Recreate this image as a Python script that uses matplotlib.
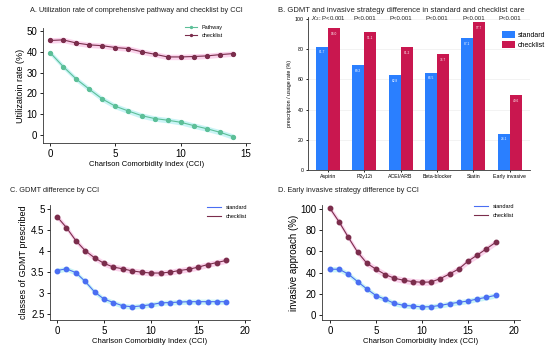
import numpy as np
import matplotlib
matplotlib.use("Agg")
import matplotlib.pyplot as plt

# ── data ─────────────────────────────────────────────────────────
cci_a = list(range(15))
pathway = [39.6, 32.9, 26.9, 22.0, 17.3, 13.8, 11.5, 9.3, 7.9, 7.1, 6.1, 4.5, 3.0, 1.3, -0.8]
checklist_a = [45.4, 45.7, 44.2, 43.3, 42.9, 42.0, 41.5, 40.0, 38.8, 37.5, 37.5, 37.7, 38.0, 38.6, 39.1]

drugs = ["Aspirin", "P2y12i", "ACEI/ARB", "Beta-blocker", "Statin", "Early invasive"]
std_rate = [81.7, 69.2, 62.8, 64.5, 87.1, 24.1]
chk_rate = [94.0, 91.1, 81.2, 76.7, 97.7, 49.6]
p_labels = ["$X_2$: P<0.001", "P<0.001", "P<0.001", "P<0.001", "P<0.001", "P<0.001"]

cci = list(range(19))
gdmt_std = [3.54, 3.58, 3.49, 3.28, 3.03, 2.86, 2.78, 2.70, 2.68, 2.70, 2.73, 2.77,
            2.78, 2.79, 2.80, 2.80, 2.80, 2.80, 2.80]
gdmt_chk = [4.82, 4.56, 4.25, 4.01, 3.84, 3.71, 3.62, 3.58, 3.53, 3.50, 3.48, 3.48,
            3.50, 3.54, 3.57, 3.62, 3.68, 3.73, 3.78]
inv_std = [43.2, 43.2, 38.5, 31.5, 24.6, 18.3, 14.8, 11.0, 9.1, 8.5, 7.6, 7.9,
           9.1, 10.7, 12.0, 13.2, 15.1, 16.7, 18.6]
inv_chk = [100.6, 87.7, 73.2, 59.3, 48.9, 43.2, 38.2, 34.7, 32.8, 31.5, 30.9, 31.2,
           34.4, 38.8, 43.5, 50.8, 56.5, 62.5, 68.5]

# ── style ────────────────────────────────────────────────────────
plt.rcParams.update({
    "font.family": "Liberation Sans",
    "axes.linewidth": 0.6,
    "xtick.major.width": 0.6,
    "ytick.major.width": 0.6,
    "xtick.major.size": 2.5,
    "ytick.major.size": 2.5,
    "xtick.major.pad": 1.5,
    "ytick.major.pad": 1.5,
})

MAROON = "#7b2d4c"
PINK_BAND = "#fbd3ec"
CYAN_BAND = "#c9f4f6"
TEAL = "#5cbf98"
BLUE = "#4a6ef2"
BAR_BLUE = "#2a7fff"
BAR_RED = "#c9174f"

W, H = 550, 351
fig = plt.figure(figsize=(W / 100, H / 100), dpi=100)


def px_axes(left, top, right, bottom):
    return fig.add_axes([left / W, 1 - bottom / H, (right - left) / W, (bottom - top) / H])


def stata_look(ax):
    for s in ("top", "right"):
        ax.spines[s].set_visible(False)
    ax.spines["left"].set_color("#333333")
    ax.spines["bottom"].set_color("#333333")


def curve(ax, x, y, color, band, half, label, ms=3.2):
    y = np.array(y)
    ax.fill_between(x, y - half, y + half, color=band, lw=0, zorder=1)
    ax.plot(x, y, color=color, lw=0.8, marker="o", ms=ms, zorder=3, label=label)


# ── A ────────────────────────────────────────────────────────────
axA = px_axes(43, 28, 250, 143)
stata_look(axA)
curve(axA, cci_a, pathway, TEAL, CYAN_BAND, 1.3, "Pathway", ms=2.8)
curve(axA, cci_a, checklist_a, MAROON, PINK_BAND, 1.3, "checklist", ms=2.8)
axA.set_xlim(-0.54, 15.3)
axA.set_ylim(-3.85, 51.4)
axA.set_xticks([0, 5, 10, 15])
axA.set_yticks([0, 10, 20, 30, 40, 50])
axA.tick_params(labelsize=7)
axA.set_xlabel("Charlson Comorbidity Index (CCI)", fontsize=5.5, labelpad=2)
axA.set_ylabel("Utilizatoin rate (%)", fontsize=6.5, labelpad=1)
axA.legend(loc="upper left", bbox_to_anchor=(0.66, 1.07), fontsize=4, frameon=False,
           handlelength=2.2, markerscale=0.5, labelspacing=0.5)
fig.text(30 / W, 1 - 11 / H, "A. Utilization rate of comprehensive pathway and checklist by CCI",
         fontsize=5.3, va="center", color="#222222")

# ── B ────────────────────────────────────────────────────────────
axB = px_axes(308, 17, 530, 170)
stata_look(axB)
xb = np.arange(len(drugs))
bw = 0.33
b1 = axB.bar(xb - bw / 2, std_rate, bw, color=BAR_BLUE, zorder=2, label="standard")
b2 = axB.bar(xb + bw / 2, chk_rate, bw, color=BAR_RED, zorder=2, label="checklist")
for bars, vals in ((b1, std_rate), (b2, chk_rate)):
    for bar, v in zip(bars, vals):
        axB.text(bar.get_x() + bar.get_width() / 2, v - 2.5, f"{v:.1f}", ha="center",
                 va="top", fontsize=2.3, color="white", zorder=3)
for i, lab in enumerate(p_labels):
    axB.text(xb[i], 100.5, lab, ha="center", va="center", fontsize=4.3, color="#222222")
axB.set_xlim(-0.55, 5.56)
axB.set_ylim(0, 101.3)
axB.set_xticks(xb)
axB.set_xticklabels(drugs)
axB.set_yticks([0, 20, 40, 60, 80, 100])
axB.tick_params(labelsize=3.8, length=1.5)
axB.yaxis.grid(True, color="#eeeeee", lw=0.5, zorder=0)
axB.set_ylabel("prescription / usage rate (%)", fontsize=3.8, labelpad=2)
axB.legend(loc="upper left", bbox_to_anchor=(0.86, 0.93), fontsize=5, frameon=False,
           borderpad=0, handlelength=1.8, handleheight=1.1, labelspacing=0.35,
           handletextpad=0.4)
fig.text(278 / W, 1 - 11 / H,
         "B. GDMT and invasive strategy difference in standard and checklist care",
         fontsize=5.5, va="center", color="#222222")

# ── C ────────────────────────────────────────────────────────────
axC = px_axes(50, 205, 250, 320)
stata_look(axC)
curve(axC, cci, gdmt_std, BLUE, CYAN_BAND, 0.06, "standard")
curve(axC, cci, gdmt_chk, MAROON, PINK_BAND, 0.07, "checklist")
axC.set_xlim(-0.74, 20.5)
axC.set_ylim(2.365, 5.095)
axC.set_xticks([0, 5, 10, 15, 20])
axC.set_yticks([2.5, 3, 3.5, 4, 4.5, 5])
axC.set_yticklabels(["2.5", "3", "3.5", "4", "4.5", "5"])
axC.tick_params(labelsize=7)
axC.set_xlabel("Charlson Comorbidity Index (CCI)", fontsize=5.5, labelpad=2)
axC.set_ylabel("classes of GDMT prescribed", fontsize=6.5, labelpad=2)
hC = [plt.Line2D([], [], color=BLUE, lw=0.8), plt.Line2D([], [], color=MAROON, lw=0.8)]
axC.legend(hC, ["standard", "checklist"], loc="upper left", bbox_to_anchor=(0.76, 1.04),
           fontsize=4, frameon=False, handlelength=2.6, labelspacing=0.6)
fig.text(10 / W, 1 - 190 / H, "C. GDMT difference by CCI", fontsize=5.3, va="center",
         color="#222222")

# ── D ────────────────────────────────────────────────────────────
axD = px_axes(322, 205, 520, 320)
stata_look(axD)
curve(axD, cci, inv_std, BLUE, CYAN_BAND, 2.5, "standard")
curve(axD, cci, inv_chk, MAROON, PINK_BAND, 3.0, "checklist")
axD.set_xlim(-0.87, 20.65)
axD.set_ylim(-4.7, 103.8)
axD.set_xticks([0, 5, 10, 15, 20])
axD.set_yticks([0, 20, 40, 60, 80, 100])
axD.tick_params(labelsize=7)
axD.set_xlabel("Charlson Comorbidity Index (CCI)", fontsize=5.5, labelpad=2)
axD.set_ylabel("invasive approach (%)", fontsize=7, labelpad=1)
hD = [plt.Line2D([], [], color=BLUE, lw=0.8), plt.Line2D([], [], color=MAROON, lw=0.8)]
axD.legend(hD, ["standard", "checklist"], loc="upper left", bbox_to_anchor=(0.74, 1.05),
           fontsize=4, frameon=False, handlelength=2.6, labelspacing=0.6)
fig.text(278 / W, 1 - 190 / H, "D. Early invasive strategy difference by CCI", fontsize=5.3,
         va="center", color="#222222")

fig.savefig("out.png", dpi=100, facecolor="white")
